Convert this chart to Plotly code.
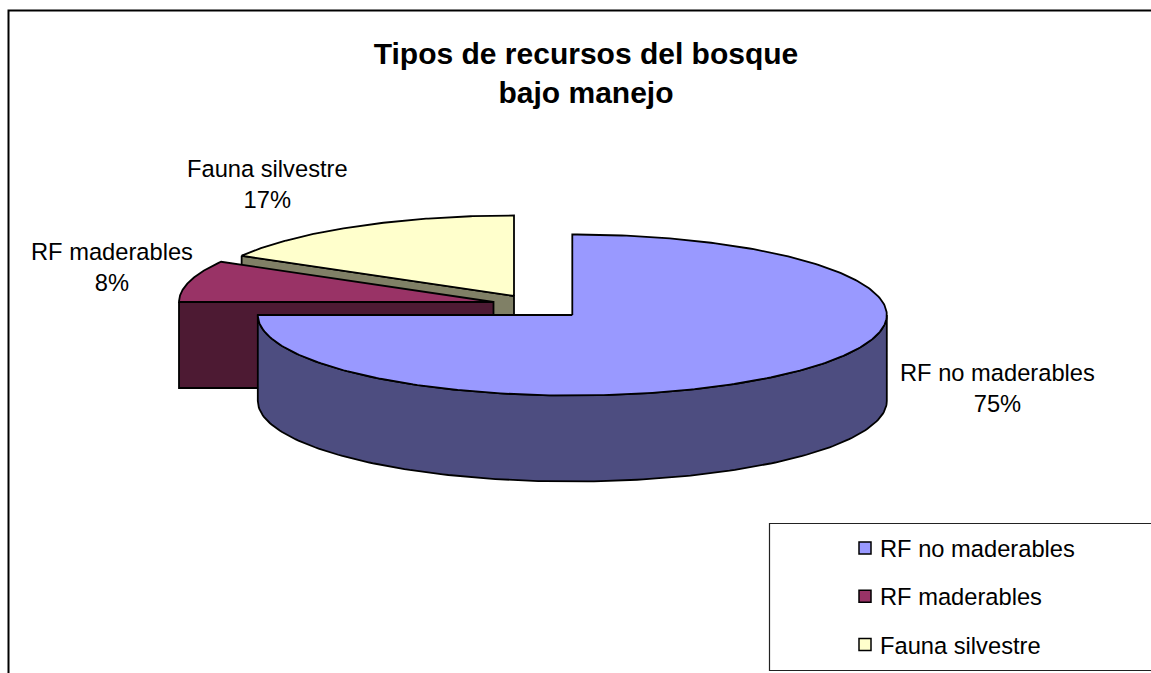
import numpy as np
import plotly.graph_objects as go

# Data (counts in the ratio of the 75 / 8 / 17 % labels)
categories = ["RF no maderables", "RF maderables", "Fauna silvestre"]
values = [9, 1, 2]
title_lines = ["Tipos de recursos del bosque", "bajo manejo"]

# Styling
top_colors = ["#9999ff", "#993366", "#ffffcc"]
side_colors = ["#4d4d80", "#4d1a33", "#808066"]
FONT = "Liberation Sans"
W, H = 1151, 673

# Projection of the 3-D exploded pie, in picture pixels
RX, RY, DEPTH = 314.5, 80.5, 86
centers = [(572.3, 315), (493.5, 302), (514, 296)]
label_pos = [(997, 388), (112, 267), (267, 184)]

fractions = np.array(values, dtype=float) / sum(values)
ends = np.cumsum(fractions) * 2 * np.pi
starts = ends - fractions * 2 * np.pi


def arc(c, a, b, n=160):
    t = np.linspace(a, b, n)
    return c[0] + RX * np.sin(t), c[1] - RY * np.cos(t)


def poly(fig, xs, ys, fill):
    fig.add_trace(go.Scatter(
        x=np.r_[xs, xs[0]], y=np.r_[ys, ys[0]], mode="lines", fill="toself",
        fillcolor=fill, line=dict(color="#000000", width=1.8),
        showlegend=False, hoverinfo="skip"))


fig = go.Figure()

# Painter's order: back slices first
for i in (2, 1):
    c = centers[i]
    ex = c[0] + RX * np.sin(starts[i])
    ey = c[1] - RY * np.cos(starts[i])
    # Cut face along the leading radius
    poly(fig,
         np.array([ex, c[0], c[0], ex]),
         np.array([ey, c[1], c[1] + DEPTH, ey + DEPTH]),
         side_colors[i])
    ax, ay = arc(c, starts[i], ends[i])
    poly(fig, np.r_[c[0], ax], np.r_[c[1], ay], top_colors[i])

# Front slice: curved wall, then the top
c = centers[0]
wx, wy = arc(c, np.pi / 2, ends[0])
poly(fig, np.r_[wx, wx[::-1]], np.r_[wy, wy[::-1] + DEPTH], side_colors[0])
ax, ay = arc(c, starts[0], ends[0], 300)
poly(fig, np.r_[c[0], ax], np.r_[c[1], ay], top_colors[0])

# Legend entries
for name, col in zip(categories, top_colors):
    fig.add_trace(go.Scatter(
        x=[None], y=[None], mode="markers", name=name, legendgroup=name,
        marker=dict(symbol="square", size=12, color=col,
                    line=dict(color="#000000", width=1.5))))

# Data labels
for name, frac, (lx, ly) in zip(categories, fractions, label_pos):
    fig.add_annotation(x=lx, y=ly, text=f"{name}<br>{round(frac * 100)}%", showarrow=False,
                       xanchor="center", yanchor="middle", align="center",
                       font=dict(family=FONT, size=23.7, color="#000000"))

line = dict(color="#000000", width=2)
fig.add_shape(type="path", path=f"M 8.5 {H} L 8.5 10.5 L {W} 10.5", line=line, layer="below")
fig.add_shape(type="path", path=f"M {W} 523.5 L 769.5 523.5 L 769.5 670.5 L {W} 670.5",
              line=dict(color="#222222", width=1.2), layer="below")

fig.update_layout(
    width=W, height=H, autosize=False,
    margin=dict(l=0, r=0, t=0, b=0, pad=0),
    paper_bgcolor="#ffffff", plot_bgcolor="#ffffff",
    xaxis=dict(range=[0, W], visible=False, fixedrange=True),
    yaxis=dict(range=[H, 0], visible=False, fixedrange=True),
    title=dict(text="<br>".join(title_lines), x=586 / W, xanchor="center", xref="paper",
               y=1 - 63.5 / H, yanchor="middle", yref="paper",
               font=dict(family=FONT, size=30, color="#000000", weight="bold")),
    font=dict(family=FONT, color="#000000"),
    showlegend=True,
    legend=dict(x=840 / W, xanchor="left", y=1 - 526 / H, yanchor="top",
                bgcolor="rgba(0,0,0,0)", borderwidth=0, tracegroupgap=14.5,
                font=dict(family=FONT, size=23.7, color="#000000"),
                itemclick=False, itemdoubleclick=False),
)

fig.write_html("out.html", config={"displayModeBar": False},
               post_script="document.body.style.margin='0';document.documentElement.style.overflow='hidden';"
                           "document.querySelectorAll('.legend .legendpoints').forEach(function(g){g.setAttribute('transform','translate(5,0)');});")
